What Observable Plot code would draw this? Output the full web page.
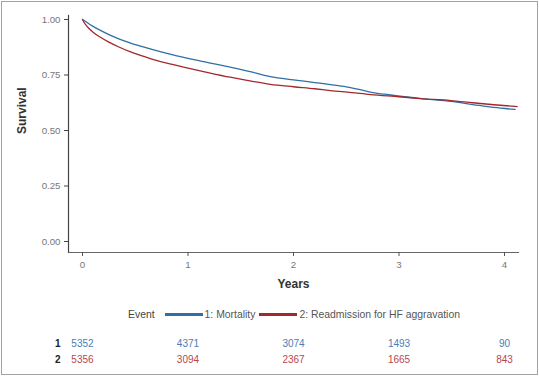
<!DOCTYPE html>
<html>
<head>
<meta charset="utf-8">
<script src="https://cdn.jsdelivr.net/npm/d3@7"></script>
<script src="https://cdn.jsdelivr.net/npm/@observablehq/plot@0.6"></script>
<style>
  html, body { margin: 0; padding: 0; background: #fff; }
  body { width: 539px; height: 380px; position: relative; overflow: hidden; font-family: "Liberation Sans", Arial, sans-serif; }
  #box { position: absolute; left: 1px; top: 1px; width: 537px; height: 374px; box-sizing: border-box; border: 1px solid #a3a3a3; }
  #chart { position: absolute; left: 0; top: 0; }
  #legend { position: absolute; left: 128px; top: 309px; display: flex; align-items: center; font-size: 10.4px; color: #555; white-space: nowrap; }
  #legend .sw { display: inline-block; width: 38px; height: 3px; margin: 0 2px 0 0; }
  #risk { position: absolute; left: 0; top: 335px; }
</style>
</head>
<body>
<div id="box"></div>
<div id="chart"></div>
<div id="legend"></div>
<div id="risk"></div>
<script>
// Kaplan-Meier curve estimates
const mortalityYears = [0, 0.02, 0.05, 0.1, 0.17, 0.25, 0.35, 0.45, 0.55, 0.65, 0.8, 1.0, 1.2, 1.4, 1.6, 1.78, 2.0, 2.2, 2.35, 2.5, 2.62, 2.75, 2.9, 3.05, 3.25, 3.49, 3.7, 3.9, 4.1];
const mortalitySurvival = [1.0, 0.994, 0.984, 0.969, 0.951, 0.932, 0.912, 0.895, 0.88, 0.866, 0.847, 0.825, 0.805, 0.785, 0.764, 0.743, 0.728, 0.716, 0.707, 0.697, 0.685, 0.671, 0.661, 0.652, 0.642, 0.631, 0.617, 0.604, 0.595];
const readmissionYears = [0, 0.02, 0.05, 0.1, 0.17, 0.25, 0.35, 0.45, 0.55, 0.65, 0.8, 1.0, 1.2, 1.4, 1.6, 1.78, 2.0, 2.2, 2.35, 2.55, 2.73, 3.0, 3.2, 3.49, 3.7, 3.9, 4.12];
const readmissionSurvival = [1.0, 0.983, 0.965, 0.943, 0.92, 0.898, 0.875, 0.855, 0.838, 0.823, 0.803, 0.781, 0.76, 0.74, 0.722, 0.708, 0.697, 0.688, 0.68, 0.671, 0.662, 0.652, 0.644, 0.635, 0.625, 0.616, 0.608];

// Legend / groups
const eventLabels = ["1: Mortality", "2: Readmission for HF aggravation"];
const eventColors = ["#2f6fa5", "#a3282d"];
const riskTextColors = ["#4a7db5", "#b8474d"];

// Number at risk table
const riskYears = [0, 1, 2, 3, 4];
const riskMortality = [5352, 4371, 3074, 1493, 90];
const riskReadmission = [5356, 3094, 2367, 1665, 843];

// Axes
const xTicks = [0, 1, 2, 3, 4];
const yTicks = [0, 0.25, 0.5, 0.75, 1.0];
const xLabel = "Years";
const yLabel = "Survival";

const curves = [
  ...mortalityYears.map((t, i) => ({t, s: mortalitySurvival[i], event: eventLabels[0]})),
  ...readmissionYears.map((t, i) => ({t, s: readmissionSurvival[i], event: eventLabels[1]}))
];

const xDomain = [-0.1327, 4.1327];
const W = 539;
const mL = 68, mR = 21;
const font = "'Liberation Sans', Arial, sans-serif";

const chart = Plot.plot({
  width: W,
  height: 300,
  marginLeft: mL,
  marginRight: mR,
  marginTop: 15,
  marginBottom: 48,
  style: {fontFamily: font, fontSize: "9.7px", color: "#333", background: "transparent"},
  x: {domain: xDomain},
  y: {domain: [-0.0495, 1.018]},
  color: {domain: eventLabels, range: eventColors},
  marks: [
    Plot.frame({anchor: "left", stroke: "#444", strokeWidth: 1.2}),
    Plot.frame({anchor: "bottom", stroke: "#666", strokeWidth: 1.2}),
    Plot.axisY(yTicks, {tickSize: 4, tickPadding: 4, tickFormat: d3.format(".2f"), fill: "#777", stroke: "#444", label: null}),
    Plot.axisX(xTicks, {tickSize: 4, tickPadding: 5, fill: "#777", stroke: "#555", label: null}),
    Plot.text([yLabel], {frameAnchor: "left", rotate: -90, dx: -46, fontWeight: "bold", fontSize: 12, fill: "#333"}),
    Plot.text([xLabel], {frameAnchor: "bottom", dy: 35, fontWeight: "bold", fontSize: 12, fill: "#333"}),
    Plot.line(curves, {x: "t", y: "s", stroke: "event", strokeWidth: 1.3, curve: "monotone-x"})
  ]
});
document.getElementById("chart").appendChild(chart);

// Legend
const legend = document.getElementById("legend");
const ev = document.createElement("span");
ev.textContent = "Event";
ev.style.marginRight = "10px";
ev.style.color = "#444";
legend.appendChild(ev);
eventLabels.forEach((lab, i) => {
  const sw = document.createElement("span");
  sw.className = "sw";
  sw.style.background = eventColors[i];
  legend.appendChild(sw);
  const tx = document.createElement("span");
  tx.textContent = lab;
  tx.style.marginRight = i === 0 ? "4px" : "0";
  legend.appendChild(tx);
});

// Risk table
const riskRows = ["1", "2"];
const riskData = [
  ...riskYears.map((t, i) => ({t, row: riskRows[0], n: riskMortality[i]})),
  ...riskYears.map((t, i) => ({t, row: riskRows[1], n: riskReadmission[i]}))
];
const risk = Plot.plot({
  width: W,
  height: 32,
  marginLeft: mL,
  marginRight: mR,
  marginTop: 0,
  marginBottom: 0,
  style: {fontFamily: font, fontSize: "10px", background: "transparent"},
  x: {domain: xDomain, axis: null},
  y: {type: "point", domain: riskRows, padding: 0.5},
  color: {domain: riskRows, range: riskTextColors},
  marks: [
    Plot.axisY({tickSize: 0, tickPadding: 8, fill: "#222", fontWeight: "bold", label: null}),
    Plot.text(riskData, {x: "t", y: "row", text: d => String(d.n), fill: "row"})
  ]
});
document.getElementById("risk").appendChild(risk);
</script>
</body>
</html>
